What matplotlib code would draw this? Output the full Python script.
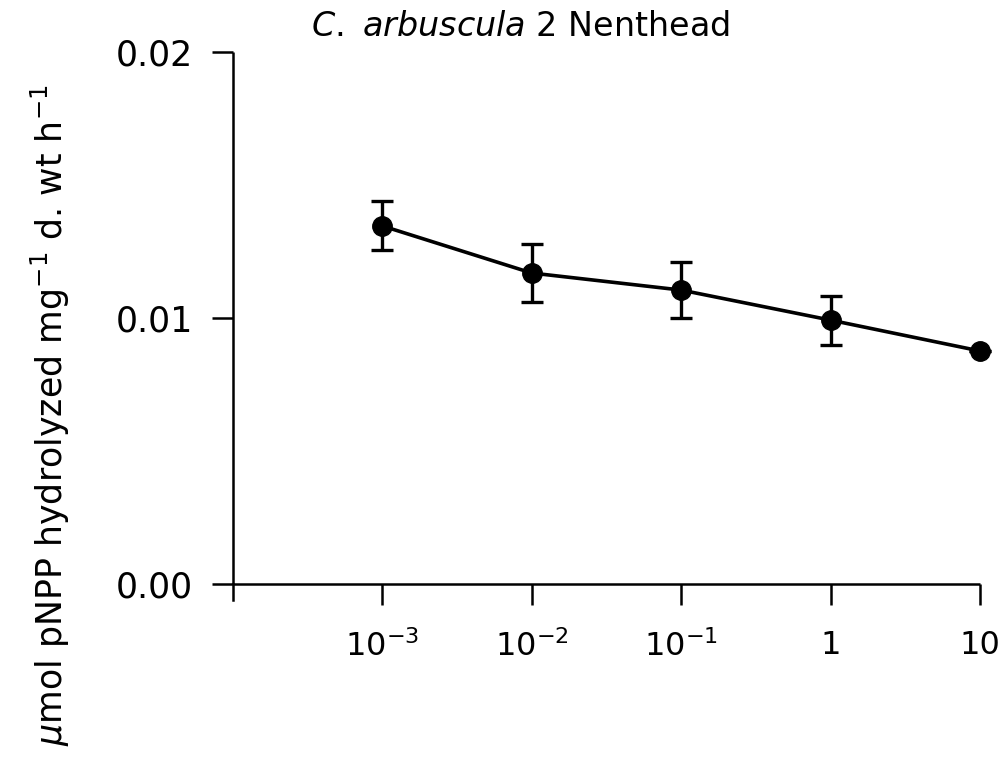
import matplotlib
matplotlib.use("Agg")
import matplotlib.pyplot as plt
from matplotlib.ticker import FixedLocator, FixedFormatter, NullLocator

concentrations = [1e-3, 1e-2, 1e-1, 1, 10]
activity = [0.01346, 0.01169, 0.01105, 0.00992, 0.00876]
errors = [0.00092, 0.00110, 0.00104, 0.00092, 0.0]
xtick_values = [1e-3, 1e-2, 1e-1, 1, 10]
xtick_labels = [r"$10^{-3}$", r"$10^{-2}$", r"$10^{-1}$", "1", "10"]
ytick_values = [0.0, 0.01, 0.02]
ytick_labels = ["0.00", "0.01", "0.02"]

plt.rcParams['font.family'] = ['DejaVu Sans']
plt.rcParams['mathtext.fontset'] = 'dejavusans'

fig = plt.figure(figsize=(10.03, 7.76), dpi=100)
ax = fig.add_axes([233/1003, 1 - 584/776, (980-233)/1003, (584-52)/776])

container = ax.errorbar(concentrations, activity, yerr=errors, fmt='o-', color='black',
                        lw=2.6, ms=14, capsize=8, capthick=2.4, elinewidth=2.4)
for artist in container.get_children():
    artist.set_clip_on(False)

ax.set_xscale('log')
ax.set_xlim(1e-4, 10)
ax.set_ylim(0, 0.02)

ax.xaxis.set_major_locator(FixedLocator(xtick_values))
ax.xaxis.set_major_formatter(FixedFormatter(xtick_labels))
ax.xaxis.set_minor_locator(NullLocator())
ax.yaxis.set_major_locator(FixedLocator(ytick_values))
ax.yaxis.set_major_formatter(FixedFormatter(ytick_labels))

for s in ['top', 'right']:
    ax.spines[s].set_visible(False)
for s in ['left', 'bottom']:
    ax.spines[s].set_linewidth(1.8)
    ax.spines[s].set_capstyle('butt')

ax.tick_params(axis='x', direction='out', length=15, width=1.8, pad=18, labelsize=23)
ax.tick_params(axis='y', direction='out', length=15, width=1.8, pad=14, labelsize=25)

# extra tick at the axis origin extending below the x axis
ax.plot([1e-4, 1e-4], [0, -0.0006], color='black', lw=1.8, clip_on=False)

fig.text(520/1003, 1 - 26/776, r"$\it{C.\ arbuscula}$ 2 Nenthead", ha='center', va='center',
         fontsize=24)

fig.text(50/1003, 1 - 415/776,
         r"$\mu$mol pNPP hydrolyzed mg$^{-1}$ d. wt h$^{-1}$",
         rotation=90, ha='center', va='center', fontsize=25)

fig.savefig('out.png', dpi=100)
